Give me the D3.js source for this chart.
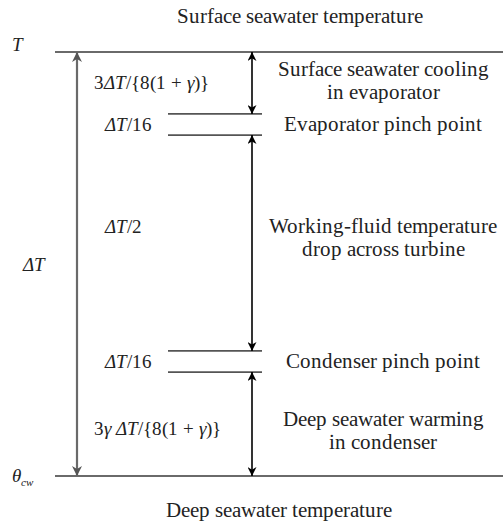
<!DOCTYPE html>
<html>
<head>
<meta charset="UTF-8">
<script src="https://d3js.org/d3.v7.min.js"></script>
<style>
    @font-face { font-family: "ChartSerif"; font-style: normal; src: local("Liberation Serif"), local("LiberationSerif"), local("Times New Roman"); }
    @font-face { font-family: "ChartSerif"; font-style: italic; src: local("Liberation Serif Italic"), local("LiberationSerif-Italic"), local("Times New Roman Italic"); }
</style>
</head>
<body style="margin:0">
<svg width="503" height="524"></svg>
<script>
    // temperature levels as a fraction of ΔT above the deep water temperature
    const levels = [1, 0.854, 0.804, 0.295, 0.245, 0]
    // labels of the five steps, top to bottom; parts marked i are italic
    const stepLabels = [
        [["3",""],["ΔT","i"],["/{8(1 + ",""],["γ","i"],[")}",""]],
        [["ΔT","i"],["/16",""]],
        [["ΔT","i"],["/2",""]],
        [["ΔT","i"],["/16",""]],
        [["3",""],["γ ΔT","i"],["/{8(1 + ",""],["γ","i"],[")}",""]]
    ]
    const stepNames = [
        ["Surface seawater cooling", "in evaporator"],
        ["Evaporator pinch point"],
        ["Working-fluid temperature", "drop across turbine"],
        ["Condenser pinch point"],
        ["Deep seawater warming", "in condenser"]
    ]
    const pinchSteps = [1, 3]
    const topTitle = "Surface seawater temperature"
    const bottomTitle = "Deep seawater temperature"

    const serif = "ChartSerif, Liberation Serif, Tinos, Times New Roman, serif"
    let svg = d3.select("svg")
    let y = d3.scaleLinear().domain([0, 1]).range([476, 52])

    // set the serif face on a text element
    function face(sel, size){
        return sel.attr("font-family", serif)
            .style("font-family", serif, "important")
            .style("font-size", size + "px")
            .attr("fill", "#222")
    }

    // arrow heads
    let defs = svg.append("defs")
    function marker(id, color, w, l){
        defs.append("marker")
            .attr("id", id)
            .attr("viewBox", "0 -5 10 10")
            .attr("refX", 10).attr("refY", 0)
            .attr("markerUnits", "userSpaceOnUse")
            .attr("markerWidth", l).attr("markerHeight", w)
            .attr("orient", "auto-start-reverse")
            .append("path")
            .attr("d", "M0,-5L10,0L0,5L3,0Z")
            .attr("fill", color)
    }
    marker("headGrey", "#555", 10, 11)
    marker("headBlack", "#000", 9, 10)

    // top and bottom temperature lines
    svg.selectAll(".level")
        .data([levels[0], levels[levels.length - 1]])
        .enter().append("line")
        .attr("x1", 55).attr("x2", 503)
        .attr("y1", d => y(d)).attr("y2", d => y(d))
        .attr("stroke", "#6a6a6a").attr("stroke-width", 2)

    // short lines bounding the pinch steps
    let pinchLevels = []
    pinchSteps.forEach(i => { pinchLevels.push(levels[i], levels[i + 1]) })
    svg.selectAll(".pinch")
        .data(pinchLevels)
        .enter().append("line")
        .attr("x1", 168).attr("x2", 262)
        .attr("y1", d => y(d)).attr("y2", d => y(d))
        .attr("stroke", "#555").attr("stroke-width", 1.6)

    // the full ΔT arrow
    svg.append("line")
        .attr("x1", 77).attr("x2", 77)
        .attr("y1", y(levels[0])).attr("y2", y(levels[levels.length - 1]))
        .attr("stroke", "#6a6a6a").attr("stroke-width", 2.2)
        .attr("marker-start", "url(#headGrey)")
        .attr("marker-end", "url(#headGrey)")

    // arrows of the non-pinch steps
    let steps = d3.range(levels.length - 1).map(i => ({
        i: i, top: levels[i], bottom: levels[i + 1], mid: (levels[i] + levels[i + 1]) / 2
    }))
    svg.selectAll(".step")
        .data(steps.filter(s => pinchSteps.indexOf(s.i) < 0))
        .enter().append("line")
        .attr("x1", 252).attr("x2", 252)
        .attr("y1", d => y(d.top)).attr("y2", d => y(d.bottom))
        .attr("stroke", "#000").attr("stroke-width", 1.6)
        .attr("marker-start", "url(#headBlack)")
        .attr("marker-end", "url(#headBlack)")

    // small nudges so labels sit where the original has them
    const labelShift = [0, 0, -16, 0, 5]
    const nameShift = [-2, 0, -5, 0, 7]

    // step size labels
    let math = face(svg.selectAll(".math")
        .data(steps)
        .enter().append("text")
        .attr("class", "math"), 19)
        .attr("x", d => stepLabels[d.i][0][0] === "3" ? 94 : 105)
        .attr("y", d => y(d.mid) + 6 + labelShift[d.i])
    math.selectAll("tspan")
        .data(d => stepLabels[d.i])
        .enter().append("tspan")
        .style("font-style", d => d[1] === "i" ? "italic" : "normal")
        .text(d => d[0])

    // step names on the right
    let names = face(svg.selectAll(".desc")
        .data(steps)
        .enter().append("text")
        .attr("class", "desc"), 20.5)
        .attr("text-anchor", "middle")
        .attr("y", d => y(d.mid) - (stepNames[d.i].length - 1) * 11 + 6 + nameShift[d.i])
    names.selectAll("tspan")
        .data(d => stepNames[d.i])
        .enter().append("tspan")
        .attr("x", 383)
        .attr("dy", (d, j) => j === 0 ? 0 : 23)
        .text(d => d)

    // ends of the scale
    function mathText(x, yy){
        return face(svg.append("text"), 19)
            .style("font-style", "italic")
            .attr("x", x).attr("y", yy)
    }
    mathText(12, y(levels[0]) - 1).text("T")
    let th = mathText(12, y(levels[levels.length - 1]) + 6)
    th.append("tspan").text("θ")
    th.append("tspan").style("font-size", "11px").attr("dy", 4).text("cw")
    mathText(23, y(0.5) + 7).text("ΔT")

    // titles above and below
    face(svg.selectAll(".title")
        .data([[topTitle, 300, 23], [bottomTitle, 279, 517]])
        .enter().append("text"), 20.5)
        .attr("text-anchor", "middle")
        .attr("x", d => d[1]).attr("y", d => d[2])
        .text(d => d[0])
</script>
</body>
</html>
